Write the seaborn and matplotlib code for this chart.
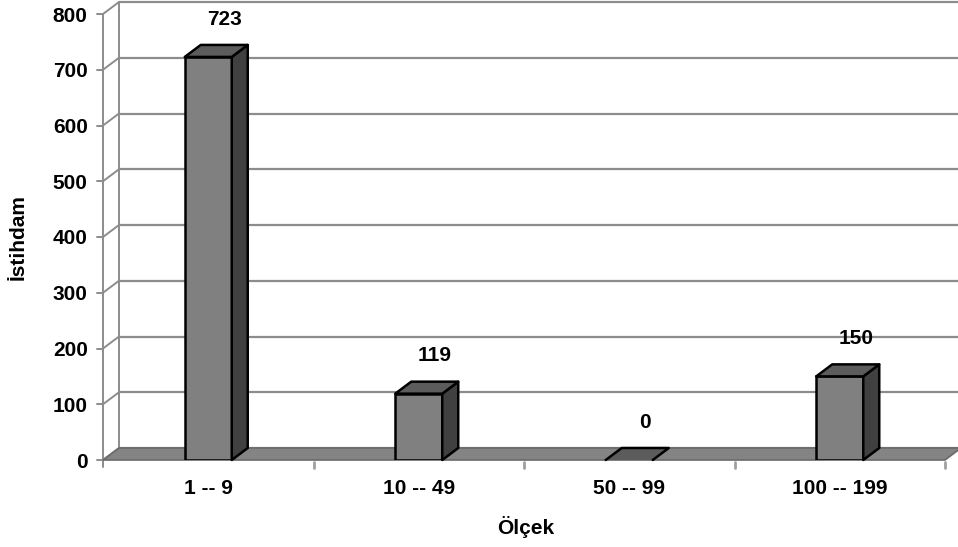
import matplotlib
matplotlib.use("Agg")
import matplotlib.pyplot as plt
import seaborn as sns
import pandas as pd
from matplotlib.patches import Polygon

# Data
categories = ["1 -- 9", "10 -- 49", "50 -- 99", "100 -- 199"]
values = [723, 119, 0, 150]
y_ticks = [0, 100, 200, 300, 400, 500, 600, 700, 800]
x_label = "Ölçek"
y_label = "İstihdam"

sns.set_theme(style="white")
plt.rcParams["font.family"] = ["Liberation Sans", "DejaVu Sans"]
plt.rcParams["font.weight"] = "bold"

FS = 15
W, H = 958, 547
fig = plt.figure(figsize=(W / 100, H / 100), dpi=100)
ax = fig.add_axes([103 / W, (H - 460) / H, 842 / W, 446 / H])

df = pd.DataFrame({"cat": categories, "val": values})

ax.set_xlim(-0.5, len(categories) - 0.5)
ax.set_ylim(0, 800)

# depth of the pseudo-3D box, expressed in data units
px_x = ax.bbox.width / (len(categories))
px_y = ax.bbox.height / 800
ddx = 16 / px_x
ddy = 12 / px_y

grid_col = "#8c8c8c"
x0, x1 = -0.5, len(categories) - 0.5

# back wall gridlines and left wall diagonals
for v in y_ticks:
    ax.plot([x0 + ddx, x1 + ddx + 0.1], [v + ddy, v + ddy], color=grid_col, lw=1.6,
            clip_on=False, zorder=1, solid_capstyle="butt")
    ax.plot([x0, x0 + ddx], [v, v + ddy], color=grid_col, lw=1.4, clip_on=False, zorder=1)
ax.plot([x0 + ddx, x0 + ddx], [ddy, 800 + ddy], color=grid_col, lw=1.4, clip_on=False, zorder=1)
# front value axis with ticks
ax.plot([x0, x0], [-12, 800], color=grid_col, lw=1.4, clip_on=False, zorder=1)
for v in y_ticks:
    ax.plot([x0 - 6 / px_x, x0], [v, v], color=grid_col, lw=1.4, clip_on=False, zorder=1)

# floor
floor = Polygon([(x0, 0), (x1, 0), (x1 + ddx, ddy), (x0 + ddx, ddy)], closed=True,
                facecolor="#848484", edgecolor="#6a6a6a", lw=1.2, clip_on=False, zorder=2)
ax.add_patch(floor)
# category tick marks below the floor
for i in range(1, len(categories) + 1):
    xb = x0 + i
    ax.plot([xb, xb], [-3, -15], color="#a0a0a0", lw=2, clip_on=False, zorder=2)

# front faces of the bars
bar_w = 47 / px_x
sns.barplot(data=df, x="cat", y="val", ax=ax, width=bar_w, color="#808080",
            saturation=1, edgecolor="black", linewidth=1.8, zorder=3)
for p, v in zip(ax.patches[1:], values):
    if v == 0:
        p.set_linewidth(0)
ax.set_xlim(x0, x1)
ax.set_ylim(0, 800)

# side and top faces
for i, v in enumerate(values):
    l, r = i - bar_w / 2, i + bar_w / 2
    if v > 0:
        side = Polygon([(r, 0), (r + ddx, ddy), (r + ddx, v + ddy), (r, v)], closed=True,
                       facecolor="#404040", edgecolor="black", lw=1.8, joinstyle="round",
                       clip_on=False, zorder=3)
        ax.add_patch(side)
        top = Polygon([(l, v), (r, v), (r + ddx, v + ddy), (l + ddx, v + ddy)], closed=True,
                      facecolor="#5c5c5c", edgecolor="black", lw=1.8, joinstyle="round",
                      clip_on=False, zorder=4)
        ax.add_patch(top)
    else:
        top = Polygon([(l, v), (r, v), (r + ddx, v + ddy), (l + ddx, v + ddy)], closed=True,
                      facecolor="#5c5c5c", edgecolor="none", clip_on=False, zorder=4)
        ax.add_patch(top)
        ax.plot([l, l + ddx, r + ddx, r], [v, v + ddy, v + ddy, v], color="black", lw=1.8,
                clip_on=False, zorder=5, solid_joinstyle="round")
    ax.annotate(f"{v}", xy=(i + 16 / px_x, v + ddy), xytext=(0, 18.5), textcoords="offset points",
                ha="center", va="center", fontsize=FS, fontweight="bold", color="black")

for s in ax.spines.values():
    s.set_visible(False)
ax.set_yticks(y_ticks)
ax.set_yticklabels([str(t) for t in y_ticks], fontsize=FS, fontweight="bold", color="black")
ax.tick_params(axis="y", length=0, pad=11)
ax.set_xticks(range(len(categories)))
ax.set_xticklabels(categories, fontsize=FS, fontweight="bold", color="black")
ax.tick_params(axis="x", length=0, pad=14)
ax.set_xlabel(x_label, fontsize=FS, fontweight="bold", color="black")
ax.set_ylabel(y_label, fontsize=FS, fontweight="bold", color="black")
ax.xaxis.set_label_coords((526 - 103) / 842, (460 - 527) / 446)
ax.xaxis.label.set_va("center")
ax.yaxis.set_label_coords((18 - 103) / 842, (460 - 237) / 446)
ax.yaxis.label.set_va("center")
ax.set_facecolor("white")
fig.patch.set_facecolor("white")

fig.savefig("out.png", dpi=100)
